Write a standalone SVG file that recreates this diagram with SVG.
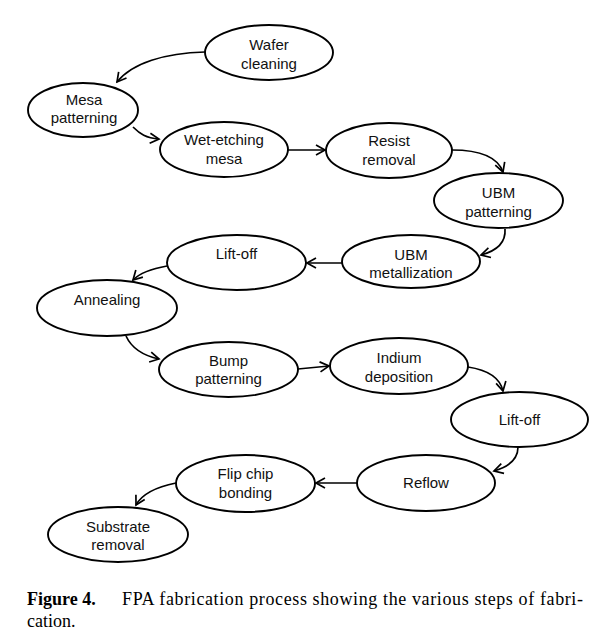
<svg xmlns="http://www.w3.org/2000/svg" width="610" height="644" viewBox="0 0 610 644">
  <defs>
    <marker id="arr" markerWidth="13" markerHeight="13" refX="11" refY="6.5" orient="auto" markerUnits="userSpaceOnUse">
      <path d="M2,1.5 L11,6.5 L2,11.5" fill="none" stroke="#000" stroke-width="1.7" stroke-linejoin="miter"/>
    </marker>
    <style>
      .n ellipse { fill: #fff; stroke: #000; stroke-width: 1.9; }
      .n text { font-family: "Liberation Sans", Arial, sans-serif; font-size: 15px; fill: #111; text-anchor: middle; }
      #connectors path { fill: none; stroke: #000; stroke-width: 1.7; marker-end: url(#arr); }
      .cap { font-family: "Liberation Serif", "Times New Roman", serif; font-size: 18px; fill: #000; }
    </style>
  </defs>
  <rect width="610" height="644" fill="#fff"/>

  <g id="connectors">
    <path d="M205,52 C165,53 132,63 117,82"/>
    <path d="M133,127 C140,134 146,138 159,139"/>
    <path d="M288,150 L325,150"/>
    <path d="M452,150 C482,150 498,158 503,172"/>
    <path d="M505,229 C506,243 496,251 481,255"/>
    <path d="M342,263 L307,263"/>
    <path d="M167,266 C150,269 140,273 133,280"/>
    <path d="M126,336 C132,349 145,356 159,359"/>
    <path d="M298,369 L329,366"/>
    <path d="M468,367 C488,370 500,378 503,391"/>
    <path d="M518,447 C518,460 508,467 494,471"/>
    <path d="M357,483 L316,483"/>
    <path d="M176,483 C156,487 142,494 136,505"/>
  </g>

  <g id="wafer" class="n">
    <ellipse cx="269" cy="52.5" rx="64" ry="27.5"/>
    <text x="269" y="50">Wafer</text>
    <text x="269" y="68.5">cleaning</text>
  </g>
  <g id="mesa" class="n">
    <ellipse cx="83" cy="110" rx="55" ry="27"/>
    <text x="84" y="105">Mesa</text>
    <text x="84" y="123">patterning</text>
  </g>
  <g id="wet" class="n">
    <ellipse cx="224" cy="149.5" rx="64" ry="27.5"/>
    <text x="224" y="145">Wet-etching</text>
    <text x="224" y="163.5">mesa</text>
  </g>
  <g id="resist" class="n">
    <ellipse cx="389" cy="150.5" rx="63" ry="27.5"/>
    <text x="389" y="146">Resist</text>
    <text x="389" y="165">removal</text>
  </g>
  <g id="ubmpat" class="n">
    <ellipse cx="498.5" cy="200.5" rx="64.5" ry="27.5"/>
    <text x="498.5" y="198">UBM</text>
    <text x="498.5" y="216.5">patterning</text>
  </g>
  <g id="ubmmet" class="n">
    <ellipse cx="411" cy="261.5" rx="69" ry="26.5"/>
    <text x="411" y="260">UBM</text>
    <text x="411" y="278">metallization</text>
  </g>
  <g id="liftoff1" class="n">
    <ellipse cx="236.5" cy="262.5" rx="69.5" ry="27.5"/>
    <text x="236.5" y="259">Lift-off</text>
  </g>
  <g id="annealing" class="n">
    <ellipse cx="107" cy="308" rx="70" ry="28"/>
    <text x="107" y="305">Annealing</text>
  </g>
  <g id="bump" class="n">
    <ellipse cx="228.5" cy="369.5" rx="69.5" ry="27.5"/>
    <text x="228.5" y="365.5">Bump</text>
    <text x="228.5" y="384">patterning</text>
  </g>
  <g id="indium" class="n">
    <ellipse cx="399" cy="366" rx="69" ry="28"/>
    <text x="399" y="363">Indium</text>
    <text x="399" y="382">deposition</text>
  </g>
  <g id="liftoff2" class="n">
    <ellipse cx="519.5" cy="419.5" rx="68.5" ry="27.5"/>
    <text x="519.5" y="424.5">Lift-off</text>
  </g>
  <g id="reflow" class="n">
    <ellipse cx="426" cy="483" rx="69" ry="28"/>
    <text x="426" y="488">Reflow</text>
  </g>
  <g id="flipchip" class="n">
    <ellipse cx="245.5" cy="483.5" rx="69.5" ry="28.5"/>
    <text x="245.5" y="479">Flip chip</text>
    <text x="245.5" y="498">bonding</text>
  </g>
  <g id="substrate" class="n">
    <ellipse cx="118" cy="534.5" rx="70" ry="27.5"/>
    <text x="118" y="532">Substrate</text>
    <text x="118" y="550">removal</text>
  </g>

  <g id="caption">
    <text class="cap" x="27" y="605"><tspan font-weight="bold">Figure 4.</tspan></text>
    <text class="cap" x="122" y="605" textLength="461" lengthAdjust="spacing">FPA fabrication process showing the various steps of fabri-</text>
    <text class="cap" x="27" y="627">cation.</text>
  </g>
</svg>
